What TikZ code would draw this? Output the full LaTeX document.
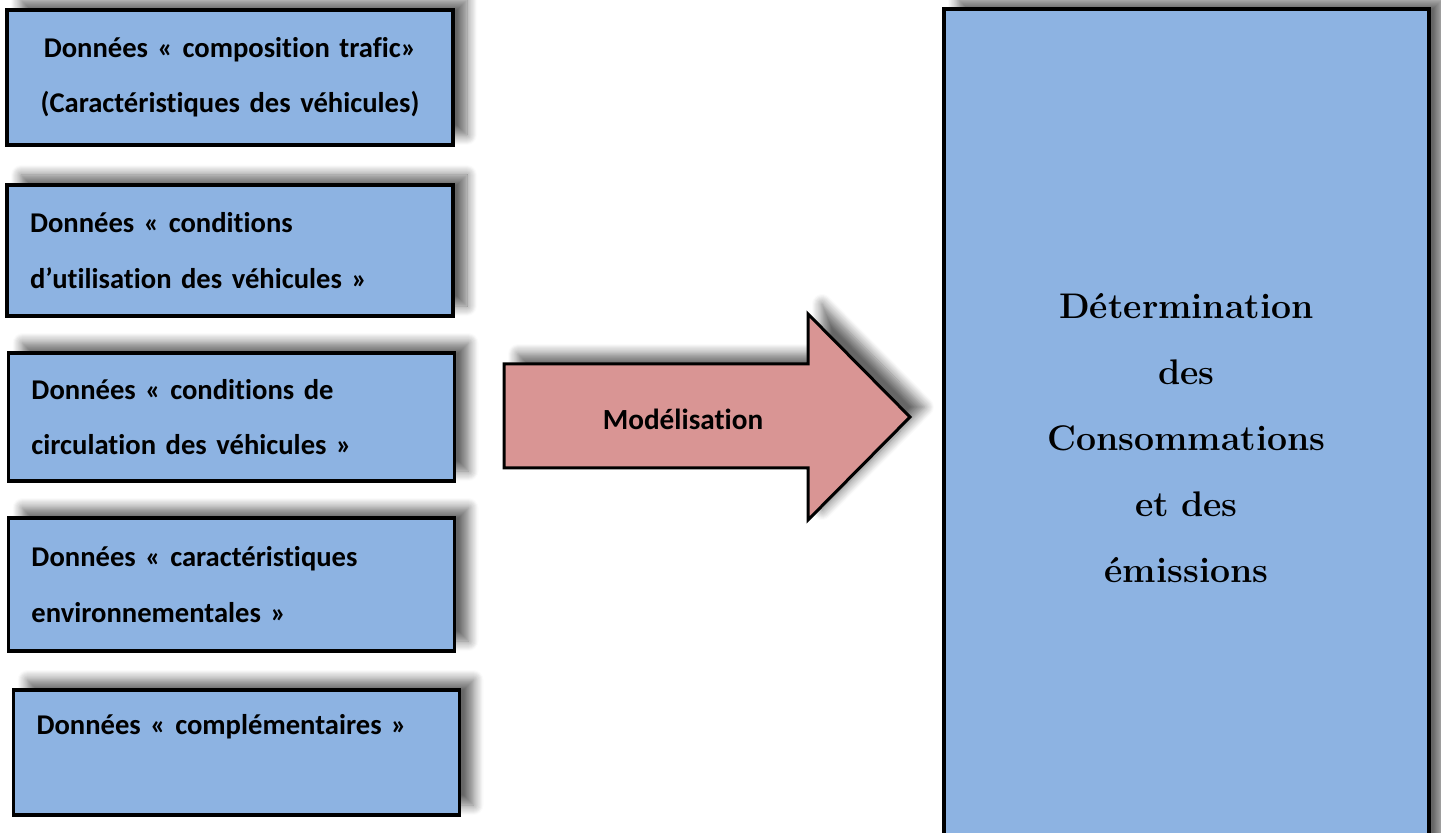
\documentclass[tikz,border=0pt]{standalone}
\usepackage{fontspec}
\setsansfont{Carlito}[Ligatures=NoCommon]
\usepackage{tikz}
\usetikzlibrary{positioning, shadows.blur}
\definecolor{boxblue}{HTML}{8DB3E2}
\definecolor{arrowpink}{HTML}{D99594}
\tikzset{
  x=0.5pt, y=-0.5pt,
  softshadow/.style={blur shadow={shadow xshift=7pt, shadow yshift=5pt,
      shadow blur radius=5pt, shadow blur steps=10, shadow opacity=60}},
  donnee/.style={rectangle, draw, line width=1.8pt, fill=boxblue, softshadow,
      minimum width=223pt, text width=200pt, inner xsep=11.5pt, align=left,
      font=\sffamily\bfseries\fontsize{14.3}{27.6}\selectfont},
  resultat/.style={rectangle, draw, line width=1.8pt, fill=boxblue, softshadow,
      minimum width=242.5pt, minimum height=429pt, text width=220pt, align=center,
      font=\rmfamily\bfseries\fontsize{17.8}{33}\selectfont},
  fleche/.style={draw, line width=1.5pt, fill=arrowpink, softshadow},
}

\begin{document}
\begin{tikzpicture}
        \useasboundingbox (0,0) rectangle (1441,833);
        \clip (0,0) rectangle (1441,833);

        % input data
        \node[donnee, align=center, minimum height=67.5pt] (trafic) at (230,77.5)
              {Données « composition trafic»\\(Caractéristiques des véhicules)};
        \node[donnee, minimum height=65.5pt] (utilisation) at (230,250.5)
              {Données « conditions\\d’utilisation des véhicules »};
        \node[donnee, minimum height=64pt] (circulation) at (231.5,417)
              {Données « conditions de\\circulation des véhicules »};
        \node[donnee, minimum height=66.5pt] (environnement) at (231.5,584.5)
              {Données « caractéristiques\\environnementales »};
        \node[donnee, minimum height=62.5pt] (complement) at (236.5,752.5)
              {Données « complémentaires »\\\mbox{}};

        % modelling arrow
        \draw[fleche] (504,364) -- (808,364) -- (808,314) -- (910,417)
              -- (808,520) -- (808,468) -- (504,468) -- cycle;
        \node[font=\sffamily\bfseries\fontsize{14.6}{17}\selectfont] (modele) at (683,419) {Modélisation};

        % result
        \node[resultat] (emissions) at (1186.5,438)
              {Détermination\\des\\Consommations\\et des\\émissions};
\end{tikzpicture}
\end{document}
